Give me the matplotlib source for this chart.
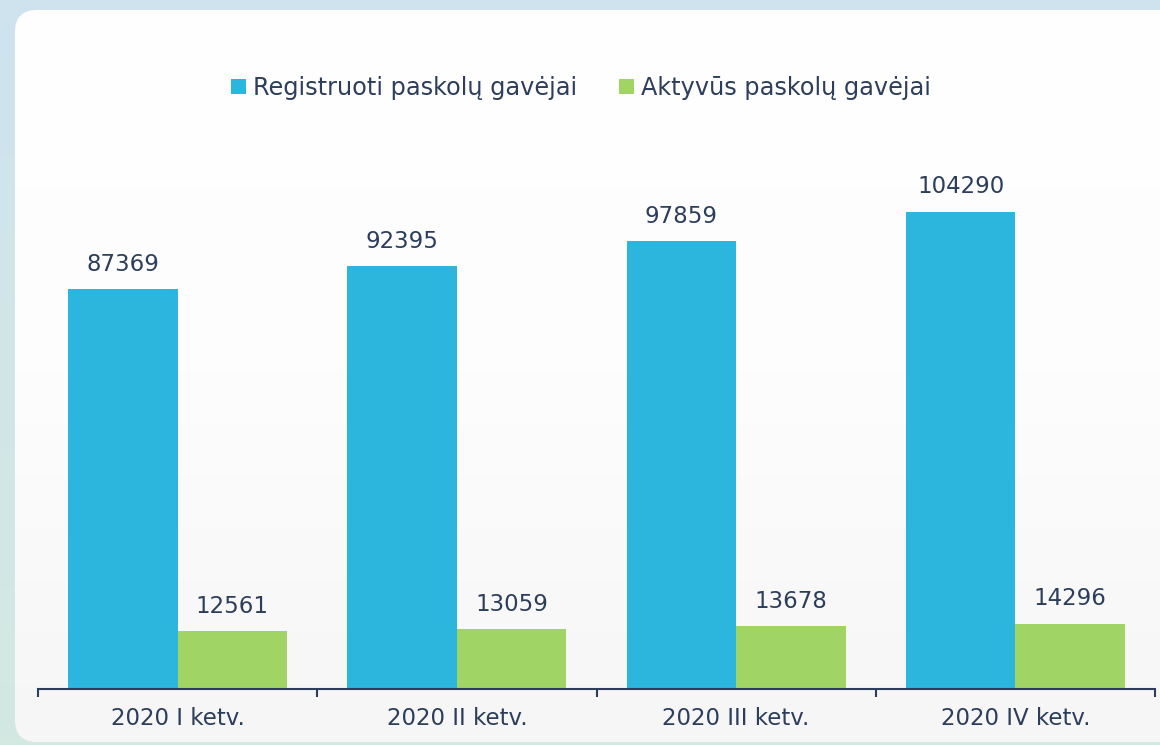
import numpy as np
import matplotlib
matplotlib.use("Agg")
import matplotlib.pyplot as plt
from matplotlib.patches import FancyBboxPatch, Patch
from matplotlib.colors import LinearSegmentedColormap

categories = ['2020 I ketv.', '2020 II ketv.', '2020 III ketv.', '2020 IV ketv.']
registered = [87369, 92395, 97859, 104290]
active = [12561, 13059, 13678, 14296]
series_names = ['Registruoti paskolų gavėjai', 'Aktyvūs paskolų gavėjai']

blue = '#2cb5dd'
green = '#a0d566'
navy = '#2c3e5c'

W, H = 1160, 745
fig = plt.figure(figsize=(W / 100, H / 100), dpi=100)

# background + card
bg = fig.add_axes([0, 0, 1, 1])
bg.set_xlim(0, W)
bg.set_ylim(H, 0)
bg.axis('off')
outer = LinearSegmentedColormap.from_list('outer', ['#cfe3ef', '#d4e8e2'])
bg.imshow(np.linspace(0, 1, 100)[:, None], cmap=outer, aspect='auto',
          extent=(0, W, H, 0), zorder=0)
card = FancyBboxPatch((15, 10), W + 40, H - 13, boxstyle='round,pad=0,rounding_size=22',
                      facecolor='none', edgecolor='none', zorder=1)
bg.add_patch(card)
inner = LinearSegmentedColormap.from_list('inner', ['#ffffff', '#fdfdfd', '#f6f6f6'])
im = bg.imshow(np.linspace(0, 1, 100)[:, None], cmap=inner, aspect='auto',
               extent=(0, W, H, 0), zorder=1)
im.set_clip_path(card)

# chart
ax = fig.add_axes([38 / W, 1 - 689 / H, 1117 / W, 539 / H])
ax.patch.set_alpha(0)
x = np.arange(len(categories))
bw = 0.392
b1 = ax.bar(x - bw / 2, registered, bw, color=blue, zorder=2)
b2 = ax.bar(x + bw / 2, active, bw, color=green, zorder=2)

for bars, vals in ((b1, registered), (b2, active)):
    for rect, v in zip(bars, vals):
        ax.annotate(str(v), (rect.get_x() + rect.get_width() / 2, v),
                    xytext=(0, 13), textcoords='offset points',
                    ha='center', va='baseline', fontsize=16.5, color=navy)

ax.set_xlim(-0.5, len(categories) - 0.5)
ax.set_ylim(0, 117730)
for s in ('top', 'right', 'left'):
    ax.spines[s].set_visible(False)
ax.spines['bottom'].set_color(navy)
ax.spines['bottom'].set_linewidth(1.5)
ax.set_yticks([])
ax.set_xticks(np.arange(len(categories) + 1) - 0.5)
ax.set_xticklabels([])
ax.tick_params(axis='x', which='major', direction='out', length=6, width=1.5, color=navy)
ax.set_xticks(x, minor=True)
ax.set_xticklabels(categories, minor=True, fontsize=16.5, color=navy)
ax.tick_params(axis='x', which='minor', length=0, pad=13)

handles = [Patch(facecolor=blue), Patch(facecolor=green)]
fig.legend(handles, series_names, loc='center', bbox_to_anchor=(581 / W, 1 - 88 / H),
           ncol=2, frameon=False, fontsize=17.3, labelcolor=navy,
           handlelength=0.6, handleheight=0.6, handletextpad=0.3, columnspacing=1.75)

fig.savefig('out.png', dpi=100)
